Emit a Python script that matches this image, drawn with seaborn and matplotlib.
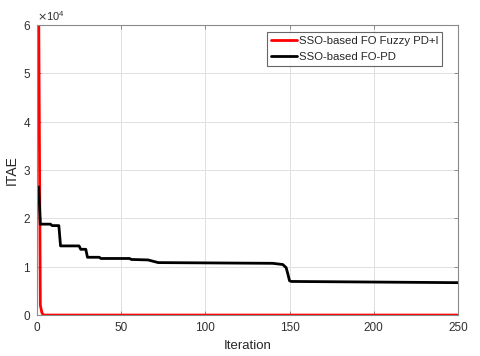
import numpy as np
import pandas as pd
import seaborn as sns
import matplotlib
matplotlib.use("Agg")
import matplotlib.pyplot as plt

# Data (ITAE values)
red_iter = [1, 2, 3, 4, 250]
red_itae = [65000, 2000, 400, 0, 0]

black_iter = [1, 2, 8, 9, 13, 14, 25, 26, 29, 30, 37, 38, 55, 56, 66, 72, 140, 146, 148, 149, 150, 151, 250]
black_itae = [26500, 18800, 18800, 18500, 18500, 14300, 14300, 13600, 13600, 11950, 11950, 11700,
              11700, 11500, 11400, 10850, 10700, 10450, 9800, 8500, 7100, 6950, 6700]

label_red = "SSO-based FO Fuzzy PD+I"
label_black = "SSO-based FO-PD"

sns.set_style("white")
plt.rcParams['font.family'] = ['Liberation Sans', 'DejaVu Sans']

df_red = pd.DataFrame({"Iteration": red_iter, "ITAE": red_itae})
df_black = pd.DataFrame({"Iteration": black_iter, "ITAE": black_itae})

fig = plt.figure(figsize=(4.8, 3.56), dpi=100)
ax = fig.add_axes([0.077, 0.115, 0.877, 0.815])

sns.lineplot(data=df_red, x="Iteration", y="ITAE", color="#ff0000", lw=2.0, ax=ax, label=label_red)
sns.lineplot(data=df_black, x="Iteration", y="ITAE", color="black", lw=2.0, ax=ax, label=label_black)

ax.set_xlim(0, 250)
ax.set_ylim(0, 60000)
ax.set_xticks([0, 50, 100, 150, 200, 250])
ax.set_yticks([0, 10000, 20000, 30000, 40000, 50000, 60000])
ax.ticklabel_format(axis='y', style='sci', scilimits=(4, 4), useMathText=True)
ax.yaxis.get_offset_text().set_fontsize(8)
ax.yaxis.get_offset_text().set_color("#404040")

ax.grid(True, color="#e0e0e0", lw=0.7)
for s in ax.spines.values():
    s.set_color("#8a8a8a")
    s.set_linewidth(0.8)
ax.tick_params(direction='in', length=3, width=0.7, color="#8a8a8a", labelsize=8.5,
               labelcolor="#303030", top=True, right=True, bottom=True, left=True)
ax.tick_params(axis='x', pad=5)
ax.tick_params(axis='y', pad=4)
ax.set_xlabel("Iteration", fontsize=9.5, color="#262626", labelpad=4)
ax.set_ylabel("ITAE", fontsize=10, color="#262626", labelpad=3)

leg = ax.legend(loc="upper right", fontsize=8.2, frameon=True, fancybox=False,
                edgecolor="#404040", handlelength=2.3, handletextpad=0.15,
                borderpad=0.35, labelspacing=0.55, borderaxespad=0.0,
                bbox_to_anchor=(0.963, 0.975))
leg.get_frame().set_linewidth(0.8)

fig.savefig("out.png", dpi=100)
